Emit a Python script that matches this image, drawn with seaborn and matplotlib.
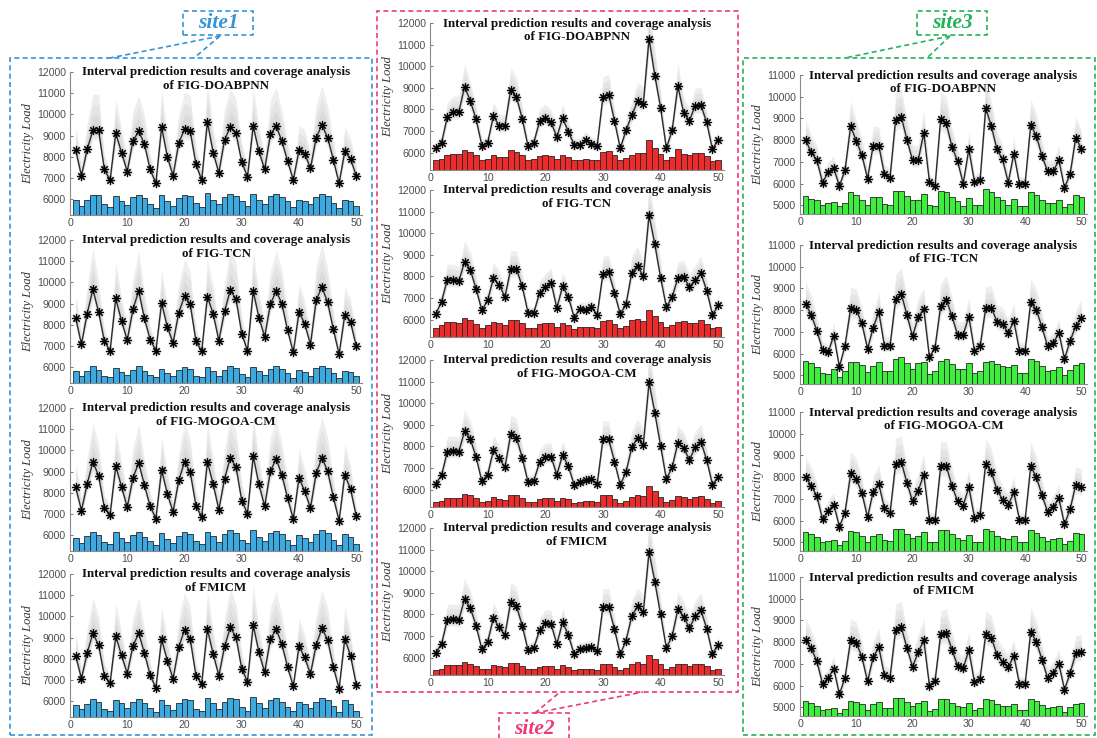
import numpy as np
import matplotlib
matplotlib.use("Agg")
import matplotlib.pyplot as plt
from matplotlib.patches import Rectangle
from matplotlib.lines import Line2D
import seaborn as sns

x = np.arange(1, 51)
methods = ["FIG-DOABPNN", "FIG-TCN", "FIG-MOGOA-CM", "FMICM"]

# ---------------- site1 ----------------
s1_load_doabpnn = [8300, 7100, 8350, 9250, 9250, 7400, 6900, 9100, 8200, 7300,
                   8750, 9200, 8600, 7400, 6750, 9400, 8000, 7100, 8650, 9300,
                   9200, 7650, 6900, 9650, 8200, 7250, 8800, 9400, 9100, 7750,
                   7050, 9450, 8250, 7400, 9050, 9450, 8750, 7800, 6900, 8300,
                   8150, 7450, 8900, 9500, 8900, 7850, 6750, 8250, 7900, 7100]
s1_bar_doabpnn = [5970, 5680, 5970, 6200, 6200, 5760, 5630, 6150, 5920, 5730,
                  6080, 6200, 6030, 5760, 5600, 6200, 5890, 5680, 6030, 6200,
                  6170, 5840, 5630, 6280, 5950, 5760, 6080, 6230, 6170, 5890,
                  5680, 6230, 5950, 5760, 6130, 6260, 6080, 5890, 5650, 5970,
                  5920, 5760, 6110, 6230, 6130, 5840, 5600, 5970, 5890, 5680]
s1_load_tcn = [8300, 7080, 8530, 9670, 8600, 7220, 6770, 9240, 8180, 7270,
               8730, 9600, 8300, 7300, 6780, 9030, 7890, 7150, 8570, 9350,
               8960, 7220, 6750, 9320, 8530, 7250, 8640, 9630, 9210, 7580,
               6770, 9590, 8340, 7430, 8970, 9590, 9000, 7740, 6700, 8600,
               8050, 7060, 9160, 9790, 9050, 7780, 6600, 8480, 8130, 6980]
s1_bar_tcn = [5800, 5570, 5840, 6050, 5860, 5600, 5520, 5980, 5790, 5610,
              5880, 6030, 5800, 5610, 5520, 5930, 5740, 5590, 5850, 6000,
              5920, 5590, 5510, 5990, 5840, 5600, 5860, 6030, 5960, 5680,
              5520, 6020, 5800, 5640, 5920, 6030, 5930, 5700, 5500, 5860,
              5760, 5580, 5950, 6070, 5940, 5700, 5480, 5830, 5780, 5560]
s1_load_mogoa = [8250, 7160, 8410, 9460, 8800, 7280, 6970, 9250, 8290, 7310,
                 8700, 9420, 8360, 7360, 6780, 9080, 7950, 7100, 8580, 9460,
                 8970, 7390, 6860, 9460, 8410, 7200, 8670, 9650, 9220, 7620,
                 7020, 9730, 8390, 7360, 9020, 9600, 8850, 7750, 6750, 8700,
                 8070, 7280, 8920, 9650, 9020, 7780, 6680, 8850, 8170, 6890]
s1_bar_mogoa = [5870, 5640, 5950, 6160, 6000, 5680, 5590, 6130, 5870, 5670,
                6000, 6160, 5910, 5720, 5530, 6100, 5810, 5640, 5980, 6160,
                6060, 5720, 5590, 6160, 5940, 5680, 6030, 6220, 6100, 5760,
                5610, 6240, 5910, 5700, 6100, 6190, 6050, 5780, 5530, 6000,
                5860, 5680, 6060, 6240, 6100, 5790, 5510, 6050, 5910, 5590]
s1_load_fmicm = [8140, 7060, 8270, 9200, 8640, 7200, 6860, 9050, 8170, 7300,
                 8610, 9200, 8270, 7230, 6620, 8920, 7910, 7050, 8550, 9360,
                 8920, 7200, 6830, 9390, 8230, 7200, 8580, 9480, 9020, 7520,
                 6920, 9590, 8300, 7360, 8920, 9390, 8700, 7610, 6700, 8580,
                 8060, 7280, 8660, 9440, 8890, 7610, 6580, 8950, 8140, 6780]
s1_bar_fmicm = [5840, 5610, 5870, 6110, 5970, 5640, 5530, 6050, 5890, 5690,
                5950, 6080, 5890, 5690, 5480, 6030, 5810, 5590, 5920, 6110,
                6030, 5640, 5530, 6160, 5890, 5640, 5950, 6140, 6080, 5730,
                5530, 6200, 5890, 5690, 6030, 6140, 5950, 5730, 5530, 5970,
                5860, 5690, 5970, 6140, 6050, 5770, 5500, 6030, 5860, 5530]

# ---------------- site2 ----------------
s2_load_doabpnn = [6230, 6460, 7650, 7900, 7880, 9060, 8390, 7540, 6330, 6460,
                   7700, 7240, 7240, 8910, 8580, 7570, 6300, 6460, 7450, 7600,
                   7400, 6730, 7600, 6980, 6360, 6360, 6610, 6410, 6330, 8580,
                   8690, 7480, 6200, 7030, 7730, 8380, 8240, 11280, 9570, 8080,
                   6210, 7030, 9080, 7850, 7480, 8180, 8200, 7400, 6150, 6610]
s2_bar_doabpnn = [5650, 5690, 5910, 5940, 5940, 6140, 6020, 5880, 5660, 5690,
                  5910, 5820, 5820, 6110, 6050, 5880, 5640, 5690, 5850, 5880,
                  5850, 5720, 5910, 5790, 5660, 5660, 5690, 5660, 5660, 6030,
                  6080, 5880, 5640, 5770, 5910, 6000, 5980, 6570, 6230, 5950,
                  5640, 5790, 6180, 5920, 5880, 5980, 5980, 5850, 5620, 5680]
s2_load_tcn = [6270, 6830, 7850, 7850, 7770, 8690, 8310, 7420, 6430, 6900,
               7910, 7620, 7060, 8340, 8340, 7540, 6320, 6320, 7230, 7510,
               7720, 6540, 7540, 7060, 6100, 6500, 6470, 6580, 6230, 8130,
               8200, 7250, 6260, 6710, 8180, 8500, 8000, 10840, 9490, 7940,
               6590, 7030, 7940, 7980, 7510, 7820, 8150, 7350, 6230, 6660]
s2_bar_tcn = [5620, 5740, 5890, 5890, 5860, 6080, 5970, 5820, 5630, 5740,
              5890, 5860, 5770, 5980, 5980, 5850, 5630, 5630, 5790, 5850,
              5860, 5660, 5850, 5770, 5590, 5660, 5650, 5660, 5620, 5920,
              5970, 5790, 5630, 5690, 5970, 6020, 5940, 6430, 6180, 5890,
              5680, 5770, 5890, 5920, 5860, 5860, 5970, 5820, 5630, 5660]
s2_load_mogoa = [6280, 6660, 7760, 7800, 7760, 8710, 8340, 7510, 6380, 6690,
                 7820, 7450, 7040, 8570, 8400, 7480, 6350, 6410, 7270, 7530,
                 7530, 6690, 7610, 7090, 6230, 6340, 6440, 6490, 6260, 8340,
                 8340, 7300, 6230, 6810, 7960, 8400, 8060, 10970, 9560, 8030,
                 6490, 7030, 8170, 7940, 7380, 7960, 8210, 7380, 6230, 6580]
s2_bar_mogoa = [5430, 5460, 5630, 5630, 5630, 5800, 5740, 5620, 5430, 5490,
                5650, 5590, 5530, 5770, 5740, 5620, 5430, 5430, 5590, 5620,
                5620, 5490, 5620, 5560, 5400, 5430, 5460, 5460, 5430, 5740,
                5740, 5590, 5400, 5490, 5680, 5750, 5710, 6150, 5920, 5680,
                5450, 5530, 5710, 5680, 5590, 5680, 5710, 5590, 5400, 5460]
s2_load_fmicm = [6240, 6630, 7760, 7790, 7750, 8710, 8300, 7480, 6380, 6730,
                 7840, 7400, 7050, 8580, 8390, 7480, 6350, 6450, 7270, 7590,
                 7560, 6630, 7640, 7050, 6160, 6380, 6450, 6490, 6300, 8350,
                 8350, 7320, 6160, 6790, 7930, 8370, 8110, 10900, 9520, 8000,
                 6450, 7000, 8240, 7900, 7370, 7920, 8190, 7350, 6180, 6610]
s2_bar_fmicm = [5420, 5480, 5650, 5650, 5650, 5810, 5730, 5620, 5470, 5500,
                5670, 5620, 5560, 5760, 5760, 5620, 5470, 5470, 5580, 5610,
                5620, 5500, 5650, 5580, 5440, 5470, 5470, 5470, 5440, 5730,
                5730, 5580, 5420, 5530, 5690, 5780, 5720, 6130, 5940, 5700,
                5470, 5560, 5730, 5690, 5620, 5700, 5730, 5620, 5440, 5500]

# ---------------- site3 ----------------
s3_load_doabpnn = [8000, 7440, 7080, 6050, 6520, 6700, 5890, 6620, 8640, 7970,
                   7310, 6230, 7750, 7750, 6420, 6280, 8950, 9080, 8020, 7080,
                   7080, 8330, 6080, 5890, 8980, 8770, 7700, 7030, 6000, 7580,
                   6080, 6160, 9480, 8640, 7580, 7110, 6050, 7380, 6000, 6000,
                   8700, 8200, 7270, 6570, 6570, 7080, 5810, 6440, 8110, 7610]
s3_bar_doabpnn = [5450, 5290, 5230, 5020, 5110, 5140, 4950, 5110, 5590, 5480,
                  5260, 5030, 5380, 5380, 5080, 5030, 5640, 5680, 5450, 5230,
                  5230, 5520, 5000, 4980, 5640, 5610, 5380, 5210, 4980, 5330,
                  5030, 5030, 5760, 5590, 5360, 5230, 5020, 5290, 4980, 4980,
                  5590, 5480, 5260, 5110, 5110, 5230, 4920, 5080, 5480, 5360]
s3_load_tcn = [8280, 7780, 7060, 6170, 6060, 6830, 5390, 6370, 8080, 8000,
               7390, 6220, 7190, 7920, 6360, 6360, 8500, 8750, 7780, 6790,
               7680, 8050, 5830, 6280, 8200, 8480, 7730, 6870, 6870, 7700,
               6120, 6330, 8090, 8120, 7470, 7370, 6950, 7500, 6140, 6140,
               8360, 8000, 7220, 6330, 6480, 6950, 5750, 6590, 7260, 7650]
s3_bar_tcn = [5670, 5550, 5360, 5120, 5080, 5310, 4920, 5190, 5620, 5590,
              5470, 5160, 5420, 5590, 5190, 5190, 5750, 5830, 5550, 5280,
              5550, 5620, 5050, 5190, 5650, 5750, 5510, 5310, 5310, 5550,
              5120, 5190, 5620, 5650, 5500, 5440, 5360, 5470, 5120, 5120,
              5730, 5650, 5440, 5190, 5230, 5360, 5030, 5230, 5470, 5550]
s3_load_mogoa = [8000, 7610, 7120, 6060, 6450, 6740, 5720, 6370, 8170, 7920,
                 7270, 6150, 7330, 7690, 6560, 6340, 8620, 8700, 7740, 6890,
                 7380, 8110, 6030, 6030, 8500, 8500, 7610, 6890, 6690, 7540,
                 6140, 6260, 8620, 8260, 7410, 6970, 6720, 7300, 6030, 6030,
                 8500, 8000, 7180, 6400, 6630, 7020, 5830, 6530, 7650, 7540]
s3_bar_mogoa = [5460, 5370, 5230, 5000, 5080, 5120, 4890, 5080, 5510, 5460,
                5280, 5030, 5280, 5390, 5110, 5050, 5590, 5620, 5390, 5190,
                5310, 5460, 5000, 5000, 5570, 5570, 5360, 5190, 5120, 5340,
                5000, 5030, 5590, 5540, 5310, 5190, 5150, 5280, 5000, 5000,
                5560, 5430, 5260, 5050, 5140, 5190, 4920, 5080, 5420, 5390]
s3_load_fmicm = [8090, 7710, 7120, 6080, 6340, 6780, 5600, 6370, 8090, 7970,
                 7320, 6190, 7300, 7770, 6470, 6370, 8580, 8690, 7740, 6860,
                 7540, 8080, 6000, 6230, 8360, 8430, 7660, 6910, 6810, 7620,
                 6160, 6320, 8360, 8200, 7430, 7090, 6840, 7380, 6060, 6060,
                 8490, 8020, 7200, 6340, 6600, 7000, 5810, 6580, 7480, 7540]
s3_bar_fmicm = [5290, 5220, 5080, 4880, 4920, 4980, 4720, 4920, 5290, 5260,
                5140, 4880, 5140, 5260, 4980, 4950, 5420, 5450, 5230, 5060,
                5190, 5290, 4840, 4920, 5390, 5390, 5190, 5060, 5030, 5190,
                4880, 4950, 5390, 5340, 5160, 5080, 5060, 5160, 4880, 4880,
                5390, 5290, 5110, 4950, 5000, 5060, 4800, 5000, 5160, 5190]

sites = {
    "site1": dict(loads=[s1_load_doabpnn, s1_load_tcn, s1_load_mogoa, s1_load_fmicm],
                  bars=[s1_bar_doabpnn, s1_bar_tcn, s1_bar_mogoa, s1_bar_fmicm],
                  ylim=(5250, 12000), yticks=range(6000, 12001, 1000),
                  bar_color="#3BAAE2", box_color="#3593D6",
                  left=70, right=362, tops=[72, 240, 408, 574], height=143,
                  base=6500, k_up=0.55, k_dn=0.10),
    "site2": dict(loads=[s2_load_doabpnn, s2_load_tcn, s2_load_mogoa, s2_load_fmicm],
                  bars=[s2_bar_doabpnn, s2_bar_tcn, s2_bar_mogoa, s2_bar_fmicm],
                  ylim=(5200, 12000), yticks=range(6000, 12001, 1000),
                  bar_color="#EE2B2B", box_color="#EE3A7A",
                  left=430, right=724, tops=[23, 190, 360, 528], height=147,
                  base=6000, k_up=0.28, k_dn=0.08),
    "site3": dict(loads=[s3_load_doabpnn, s3_load_tcn, s3_load_mogoa, s3_load_fmicm],
                  bars=[s3_bar_doabpnn, s3_bar_tcn, s3_bar_mogoa, s3_bar_fmicm],
                  ylim=(4600, 11000), yticks=range(5000, 11001, 1000),
                  bar_color="#3DEE3D", box_color="#22B35A",
                  left=800, right=1087, tops=[75, 245, 412, 577], height=139,
                  base=5600, k_up=0.32, k_dn=0.10),
}

W, H = 1097, 738
sns.set_theme(style="ticks")
plt.rcParams["font.family"] = ["Liberation Sans", "DejaVu Sans"]

fig = plt.figure(figsize=(W / 100, H / 100), dpi=100)


def fx(px):
    return px / W


def fy(py):
    return 1 - py / H


band_levels = [1.0, 0.7, 0.4]
band_colors = ["#EEEEEE", "#E4E4E4", "#DADADA"]

for name, s in sites.items():
    for i, method in enumerate(methods):
        top = s["tops"][i]
        ax = fig.add_axes([fx(s["left"]), fy(top + s["height"]),
                           fx(s["right"] - s["left"]), s["height"] / H])
        load = np.asarray(s["loads"][i], float)
        bars = np.asarray(s["bars"][i], float)
        ymin, ymax = s["ylim"]

        dev = np.clip(load - s["base"], 0, None)
        for lev, col in zip(band_levels, band_colors):
            ax.fill_between(x, load - lev * (s["k_dn"] * dev + 180),
                            load + lev * (s["k_up"] * dev + 200),
                            color=col, lw=0, zorder=1)

        ax.bar(x, bars - ymin, bottom=ymin, width=1.0, color=s["bar_color"],
               edgecolor="#262626", linewidth=0.6, zorder=2)

        sns.lineplot(x=x, y=load, ax=ax, color="#b0b0b0", lw=0,
                     marker=(8, 2, 0), markersize=7, mec="#b0b0b0", mew=1.6,
                     alpha=0.5, zorder=3, legend=False)
        sns.lineplot(x=x, y=load, ax=ax, color="#2a2a2a", lw=1.0,
                     marker=(8, 2, 0), markersize=6, mec="black", mew=0.8,
                     zorder=4, legend=False)

        ax.set_xlim(0, 51)
        ax.set_ylim(ymin, ymax)
        ax.set_xticks([0, 10, 20, 30, 40, 50])
        ax.set_yticks(list(s["yticks"]))
        ax.tick_params(direction="in", length=2.5, width=0.7, colors="#777777",
                       labelsize=7.6, labelcolor="#4d4d4d", pad=3)
        ax.tick_params(axis="x", pad=2.5)
        for sp in ["top", "right"]:
            ax.spines[sp].set_visible(False)
        for sp in ["left", "bottom"]:
            ax.spines[sp].set_color("#8a8a8a")
            ax.spines[sp].set_linewidth(0.8)
        ax.set_xlabel("")
        ax.set_ylabel("Electricity Load", family="Liberation Serif",
                      style="italic", fontsize=9, color="#333333", labelpad=2)
        ax.text(0.5, 1 + 5.5 / s["height"],
                "Interval prediction results and coverage analysis\nof " + method,
                transform=ax.transAxes, ha="center", va="top",
                family="Liberation Serif", fontweight="bold", fontsize=9.4,
                linespacing=1.12, color="#111111", zorder=5)


def dashed_rect(x0, y0, x1, y1, color, lw=1.2):
    fig.add_artist(Rectangle((fx(x0), fy(y1)), fx(x1 - x0), (y1 - y0) / H,
                             transform=fig.transFigure, fill=False,
                             edgecolor=color, lw=lw, ls=(0, (3, 2))))


def dashed_line(p0, p1, color, lw=1.2):
    fig.add_artist(Line2D([fx(p0[0]), fx(p1[0])], [fy(p0[1]), fy(p1[1])],
                          transform=fig.transFigure, color=color, lw=lw,
                          ls=(0, (3, 2))))


def site_label(text, cx, cy, color, x0, y0, x1, y1):
    dashed_rect(x0, y0, x1, y1, color)
    fig.text(fx(cx), fy(cy), text, ha="center", va="center", color=color,
             family="Liberation Serif", fontweight="bold", style="italic",
             fontsize=15.5)


c1 = sites["site1"]["box_color"]
c2 = sites["site2"]["box_color"]
c3 = sites["site3"]["box_color"]

dashed_rect(10, 58, 372, 735, c1)
site_label("site1", 218, 23, c1, 183, 11, 253, 35)
dashed_line((220, 36), (110, 58), c1)
dashed_line((220, 36), (194, 58), c1)

dashed_rect(377, 11, 738, 692, c2)
site_label("site2", 534, 729, c2, 499, 713, 569, 745)
dashed_line((535, 713), (560, 692), c2)
dashed_line((535, 713), (643, 692), c2)

dashed_rect(743, 58, 1095, 735, c3)
site_label("site3", 952, 23, c3, 917, 11, 987, 35)
dashed_line((950, 36), (845, 58), c3)
dashed_line((950, 36), (927, 58), c3)

fig.savefig("out.png", dpi=100)
